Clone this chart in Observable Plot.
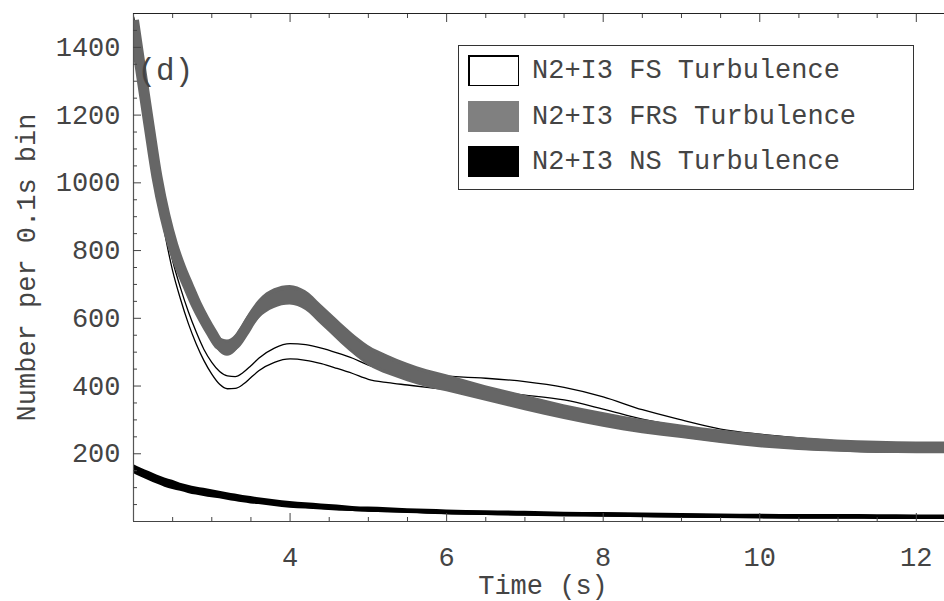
<!DOCTYPE html>
<html>
<head>
<meta charset="utf-8">
<script src="https://cdn.jsdelivr.net/npm/d3@7"></script>
<script src="https://cdn.jsdelivr.net/npm/@observablehq/plot@0.6"></script>
<style>
  html, body { margin: 0; padding: 0; background: #fff; }
  #wrap { position: relative; width: 944px; height: 601px; overflow: hidden; background: #fff; }
  .legend { position: absolute; left: 458px; top: 45px; width: 456px; height: 145px; box-sizing: border-box;
            border: 1px solid #333; background: #fff; font-family: "Liberation Mono", "DejaVu Sans Mono", monospace;
            font-size: 27px; color: #444; }
  .item { position: absolute; left: 9px; height: 31px; display: flex; align-items: center; white-space: pre; }
  .sw { width: 51px; height: 31px; box-sizing: border-box; margin-right: 13px; }
</style>
</head>
<body>
<div id="wrap"></div>
<script>
// ---- data ----
const times   = [2.0, 2.1, 2.2, 2.3, 2.4, 2.5, 2.6, 2.7, 2.8, 2.9, 3.0, 3.1, 3.2, 3.3, 3.4, 3.5, 3.6, 3.8, 4.0, 4.2, 4.4, 4.6, 4.8, 5.0, 5.25, 5.5, 5.75, 6.0, 6.5, 7.0, 7.5, 8.0, 8.5, 9.0, 9.5, 10.0, 10.5, 11.0, 11.5, 12.0, 12.4];
// FS band (white band drawn as two thin outline curves)
const fsUpper = [1490, 1325, 1160, 1000, 875, 770, 690, 620, 560, 508, 470, 443, 430, 428, 440, 460, 482, 512, 525, 522, 512, 498, 482, 462, 447, 438, 432, 429, 423, 413, 396, 368, 330, 300, 273, 258, 247, 238, 232, 229, 228];
const fsLower = [1490, 1315, 1145, 980, 850, 740, 657, 585, 525, 475, 435, 405, 392, 393, 405, 425, 445, 470, 480, 476, 466, 452, 437, 420, 410, 403, 396, 390, 384, 373, 359, 332, 302, 280, 262, 250, 240, 232, 228, 226, 226];
// FRS band (gray)
const frsLow  = [1458, 1300, 1145, 995, 882, 795, 728, 673, 620, 575, 535, 500, 488, 500, 532, 568, 597, 629, 639, 623, 580, 537, 495, 460, 433, 413, 396, 383, 355, 327, 301, 278, 259, 245, 230, 218, 210, 205, 201, 201, 201];
const frsHigh = [1502, 1344, 1189, 1039, 926, 839, 772, 717, 664, 619, 579, 544, 536, 550, 584, 622, 653, 687, 697, 681, 640, 597, 555, 520, 491, 467, 448, 433, 401, 373, 345, 322, 301, 285, 270, 258, 248, 241, 237, 235, 235];
// NS band (black)
const nsLow   = [141.5, 130.5, 120.5, 110.5, 101.5, 94.5, 89, 83, 78, 74, 70, 67, 63, 59, 55, 52, 50, 44, 39, 37, 34, 31, 29.5, 27.5, 25.5, 24, 22, 20, 18, 16, 14.5, 13.5, 12, 10.5, 9.5, 8.5, 7.5, 7.5, 7, 6.5, 6.5];
const nsHigh  = [168.5, 157.5, 147.5, 137.5, 128.5, 121.5, 113, 107, 102, 98, 94, 89, 85, 81, 77, 74, 70, 64, 59, 55, 52, 49, 44.5, 42.5, 40.5, 38, 36, 34, 32, 30, 27.5, 26.5, 25, 23.5, 22.5, 21.5, 20.5, 20.5, 20, 19.5, 19.5];

const xMajor = [4, 6, 8, 10, 12];
const xMinor = [2.5, 3, 3.5, 4.5, 5, 5.5, 6.5, 7, 7.5, 8.5, 9, 9.5, 10.5, 11, 11.5];
const yMajor = [200, 400, 600, 800, 1000, 1200, 1400];
const yMinor = [50, 100, 150, 250, 300, 350, 450, 500, 550, 650, 700, 750, 850, 900, 950, 1050, 1100, 1150, 1250, 1300, 1350, 1450];

const seriesNames = ["N2+I3 FS Turbulence", "N2+I3 FRS Turbulence", "N2+I3 NS Turbulence"];
const xLabel = "Time (s)";
const yLabel = "Number per 0.1s bin";
const panelTag = "(d)";

// ---- table ----
const rows = times.map((t, i) => ({
  t, fsU: fsUpper[i], fsL: fsLower[i],
  frsL: frsLow[i], frsH: frsHigh[i], frsM: (frsLow[i] + frsHigh[i]) / 2,
  nsL: nsLow[i], nsH: nsHigh[i], nsM: (nsLow[i] + nsHigh[i]) / 2
}));

const axisColor = "#444";
const textColor = "#444";
const curve = "monotone-x";
const fmt = d => String(d);

const plot = Plot.plot({
  width: 944,
  height: 601,
  marginLeft: 133,
  marginRight: 0,
  marginTop: 13,
  marginBottom: 80,
  x: {domain: [2, 12.36]},
  y: {domain: [0, 1500]},
  style: {fontFamily: "'Liberation Mono', 'DejaVu Sans Mono', monospace", fontSize: "27px", color: textColor, background: "#fff"},
  marks: [
    // FS band outlines
    Plot.lineY(rows, {x: "t", y: "fsU", stroke: "#000", strokeWidth: 1.3, curve, clip: true}),
    Plot.lineY(rows, {x: "t", y: "fsL", stroke: "#000", strokeWidth: 1.3, curve, clip: true}),
    // FRS gray band
    Plot.areaY(rows, {x: "t", y1: "frsL", y2: "frsH", fill: "#666", curve, clip: true}),
    Plot.lineY(rows, {x: "t", y: "frsM", stroke: "#666", strokeWidth: 11, strokeLinecap: "butt", curve, clip: true}),
    // NS black band
    Plot.areaY(rows, {x: "t", y1: "nsL", y2: "nsH", fill: "#000", curve, clip: true}),
    Plot.lineY(rows, {x: "t", y: "nsM", stroke: "#000", strokeWidth: 4, strokeLinecap: "butt", curve, clip: true}),

    // frame lines
    Plot.ruleX([2], {stroke: "#555", strokeWidth: 1.2}),
    Plot.ruleY([0], {stroke: axisColor, strokeWidth: 1.2}),
    Plot.ruleY([1500], {stroke: "#222", strokeWidth: 1.2}),

    // inward ticks
    Plot.axisY(yMinor, {tickSize: -4, fill: "none", stroke: axisColor, label: null}),
    Plot.axisY(yMajor, {tickSize: -8, fill: "none", stroke: axisColor, label: null}),
    Plot.axisX(xMinor, {anchor: "bottom", tickSize: -4, fill: "none", stroke: axisColor, label: null}),
    Plot.axisX(xMajor, {anchor: "bottom", tickSize: -8, fill: "none", stroke: axisColor, label: null}),
    Plot.axisX(xMinor, {anchor: "top", tickSize: -4, fill: "none", stroke: axisColor, label: null}),
    Plot.axisX(xMajor, {anchor: "top", tickSize: -8, fill: "none", stroke: axisColor, label: null}),

    // tick labels
    Plot.axisY(yMajor, {tickSize: 0, tickPadding: 13, fill: textColor, tickFormat: fmt, label: null}),
    Plot.axisX(xMajor, {anchor: "bottom", tickSize: 0, tickPadding: 25, fill: textColor, tickFormat: fmt, label: null}),

    // axis titles
    Plot.text([yLabel], {frameAnchor: "left", dx: -107, rotate: -90, textAnchor: "middle", lineAnchor: "middle", fill: textColor}),
    Plot.text([xLabel], {frameAnchor: "bottom", dx: 4, dy: 64, textAnchor: "middle", lineAnchor: "middle", fill: textColor}),

    // panel tag
    Plot.text([panelTag], {frameAnchor: "top-left", dx: 4, dy: 57, textAnchor: "start", lineAnchor: "middle", fontSize: 31, fill: textColor})
  ]
});

const wrap = document.getElementById("wrap");
wrap.appendChild(plot);

// legend inside the plot area
const legend = document.createElement("div");
legend.className = "legend";
const swatchStyles = [
  "background:#fff;border:1px solid #000;border-left-width:2px;border-top-width:2px;",
  "background:#808080;",
  "background:#000;"
];
const tops = [9, 55, 100];
seriesNames.forEach((name, i) => {
  const item = document.createElement("div");
  item.className = "item";
  item.style.top = tops[i] + "px";
  const sw = document.createElement("div");
  sw.className = "sw";
  sw.setAttribute("style", swatchStyles[i]);
  const label = document.createElement("span");
  label.textContent = name;
  item.appendChild(sw);
  item.appendChild(label);
  legend.appendChild(item);
});
wrap.appendChild(legend);
</script>
</body>
</html>
